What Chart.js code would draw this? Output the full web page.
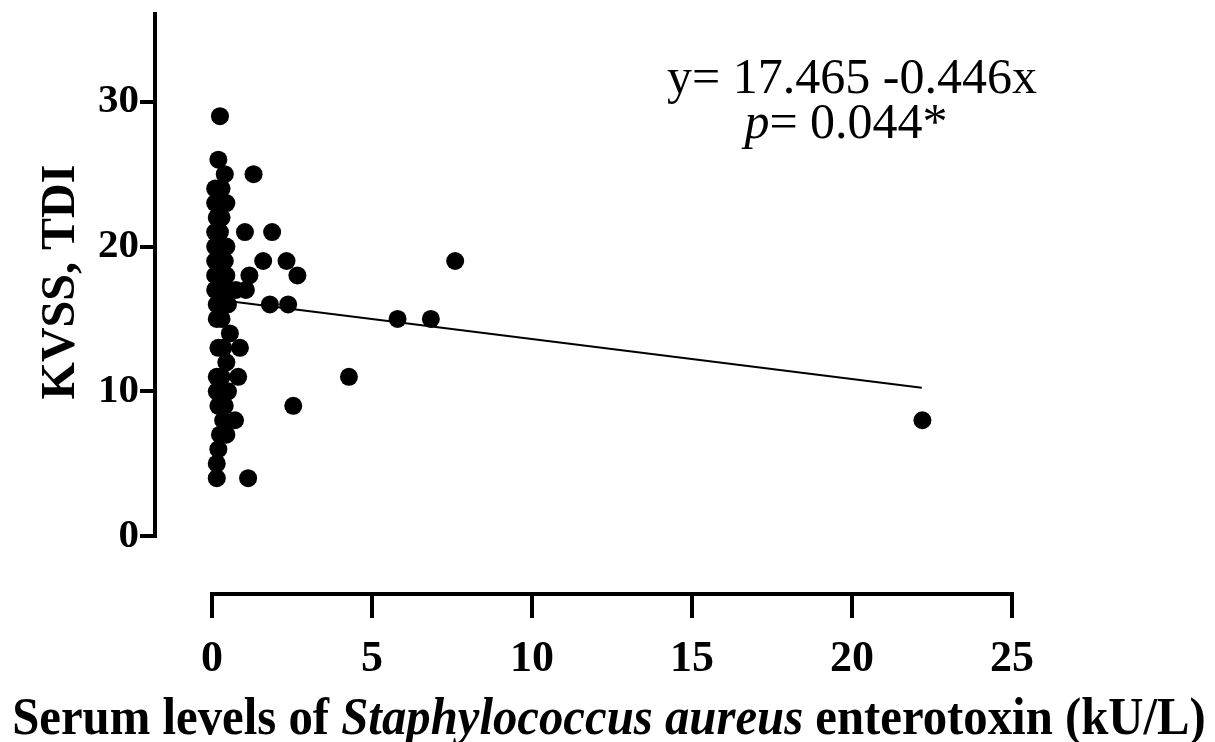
<!DOCTYPE html>
<html>
<head>
<meta charset="utf-8">
<script src="https://cdn.jsdelivr.net/npm/chart.js@4/dist/chart.umd.min.js"></script>
<style>
  html, body { margin: 0; padding: 0; background: #fff; }
  #wrap { width: 1215px; height: 742px; }
</style>
</head>
<body>
<div id="wrap"><canvas id="seaChart"></canvas></div>
<script>
// serum SE level (kU/L) vs KVSS, TDI score, one entry per patient
var sea_level = [0.25, 0.2, 0.4, 1.3, 0.1, 0.2, 0.3, 0.1, 0.3, 0.45, 0.15, 0.3,
  0.1, 0.25, 1.03, 1.88, 0.1, 0.2, 0.45, 0.1, 0.3, 0.4, 1.6, 2.33, 7.6,
  0.1, 0.25, 0.45, 1.17, 2.67, 0.1, 0.2, 0.5, 0.75, 1.06,
  0.15, 0.3, 0.5, 1.81, 2.38, 0.15, 0.3, 5.8, 6.84, 0.56,
  0.2, 0.35, 0.875, 0.45, 0.15, 0.3, 0.82, 4.28, 0.15, 0.35, 0.5,
  0.2, 0.4, 2.54, 0.35, 0.72, 22.2, 0.25, 0.45, 0.2, 0.15, 0.15, 1.13];
var kvss_tdi = [29, 26, 25, 25, 24, 24, 24, 23, 23, 23, 22, 22,
  21, 21, 21, 21, 20, 20, 20, 19, 19, 19, 19, 19, 19,
  18, 18, 18, 18, 18, 17, 17, 17, 17, 17,
  16, 16, 16, 16, 16, 15, 15, 15, 15, 14,
  13, 13, 13, 12, 11, 11, 11, 11, 10, 10, 10,
  9, 9, 9, 8, 8, 8, 7, 7, 6, 5, 4, 4];

// fitted line as drawn in the figure
var fit_x = [0.62, 22.18];
var fit_y = [16.2, 10.24];

var x_ticks = [0, 5, 10, 15, 20, 25];
var y_ticks = [0, 10, 20, 30];

var points = sea_level.map(function(v, i) { return {x: v, y: kvss_tdi[i]}; });
var fitLine = fit_x.map(function(v, i) { return {x: v, y: fit_y[i]}; });

var SERIF = "'Liberation Serif', 'Times New Roman', serif";

// draws runs of text with different font styles one after another
function mixedText(ctx, parts, size, cx, y, squeeze) {
  var total = 0;
  parts.forEach(function(p) {
    ctx.font = p[1] + ' ' + size + 'px ' + SERIF;
    total += ctx.measureText(p[0]).width;
  });
  ctx.save();
  ctx.translate(cx, y);
  ctx.scale(squeeze, 1);
  ctx.textAlign = 'left';
  ctx.textBaseline = 'alphabetic';
  var x = -total / 2;
  parts.forEach(function(p) {
    ctx.font = p[1] + ' ' + size + 'px ' + SERIF;
    ctx.fillText(p[0], x, 0);
    x += ctx.measureText(p[0]).width;
  });
  ctx.restore();
}

// axis lines that stop at zero, the titles and the equation
var axesAndNotes = {
  id: 'axesAndNotes',
  afterDraw: function(chart) {
    var ctx = chart.ctx;
    var xs = chart.scales.x, ys = chart.scales.y;
    var ca = chart.chartArea;
    ctx.save();
    ctx.strokeStyle = '#000';
    ctx.fillStyle = '#000';
    ctx.lineWidth = 4;
    ctx.beginPath();
    ctx.moveTo(ca.left, ys.getPixelForValue(0) + 2);
    ctx.lineTo(ca.left, ca.top);
    ctx.stroke();
    ctx.beginPath();
    ctx.moveTo(xs.getPixelForValue(0) - 2, ca.bottom - 2);
    ctx.lineTo(xs.getPixelForValue(25) + 2, ca.bottom - 2);
    ctx.stroke();

    mixedText(ctx, [
      ['Serum levels of ', 'bold'],
      ['Staphylococcus aureus', 'italic bold'],
      [' enterotoxin (kU/L)', 'bold']
    ], 53, 609, 734, 0.92);

    // y title
    ctx.save();
    ctx.translate(74, 282);
    ctx.rotate(-Math.PI / 2);
    ctx.font = 'bold 48px ' + SERIF;
    ctx.textAlign = 'center';
    ctx.textBaseline = 'alphabetic';
    ctx.fillText('KVSS, TDI', 0, 0);
    ctx.restore();

    // regression note
    mixedText(ctx, [['y= 17.465 -0.446x', '']], 50, 852, 93, 1);
    mixedText(ctx, [['p', 'italic'], ['= 0.044*', '']], 50, 846, 138, 1);
    ctx.restore();
  }
};

var ctx = document.getElementById('seaChart');
var seaChart = new Chart(ctx, {
  type: 'scatter',
  data: {
    datasets: [
      {
        data: points,
        backgroundColor: '#000',
        borderWidth: 0,
        pointRadius: 9,
        clip: false
      },
      {
        data: fitLine,
        showLine: true,
        borderColor: '#000',
        borderWidth: 2,
        pointRadius: 0,
        clip: false
      }
    ]
  },
  plugins: [axesAndNotes],
  options: {
    responsive: true,
    maintainAspectRatio: false,
    animation: false,
    layout: { padding: { top: 12, right: 203, left: 0, bottom: 0 } },
    plugins: {
      legend: { display: false },
      tooltip: { enabled: false }
    },
    scales: {
      x: {
        type: 'linear',
        min: -1.78,
        max: 25,
        afterBuildTicks: function(axis) {
          axis.ticks = x_ticks.map(function(v) { return {value: v}; });
        },
        afterFit: function(axis) {
          axis.height = 146;
          axis.paddingLeft = 0;
          axis.paddingRight = 0;
        },
        grid: {
          drawOnChartArea: false,
          tickLength: 22,
          lineWidth: 4,
          color: '#000'
        },
        border: { display: false },
        ticks: {
          color: '#000',
          padding: 15,
          maxRotation: 0,
          font: { family: SERIF, size: 44, weight: 'bold' }
        }
      },
      y: {
        min: 0,
        max: 36.2,
        afterBuildTicks: function(axis) {
          axis.ticks = y_ticks.map(function(v) { return {value: v}; });
        },
        afterFit: function(axis) {
          axis.width = 155;
          axis.paddingTop = 0;
          axis.paddingBottom = 0;
        },
        afterDataLimits: function(axis) {
          // leave room below zero so the x axis sits apart from the plot
          axis.min = -4.14;
        },
        grid: {
          drawOnChartArea: false,
          tickLength: 15,
          lineWidth: 4,
          color: '#000'
        },
        border: { display: false },
        ticks: {
          color: '#000',
          padding: 1,
          font: { family: SERIF, size: 41, weight: 'bold' }
        }
      }
    }
  }
});
</script>
</body>
</html>
